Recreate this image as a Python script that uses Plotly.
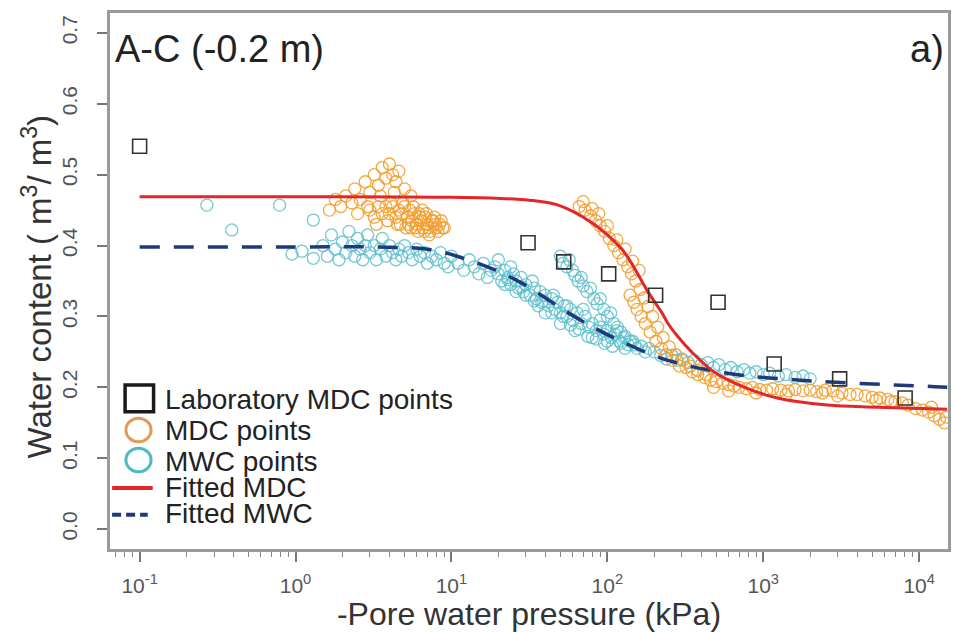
import plotly.graph_objects as go

# ---------------- data ----------------
lab_p = [0.1, 31, 52.5, 102, 204, 513, 1175, 3090, 8130]
lab_w = [0.540, 0.404, 0.377, 0.360, 0.330, 0.320, 0.233, 0.212, 0.185]

# MDC points: (pressure kPa, water content)
mdc_p = [1.65, 1.8, 1.95, 2.1, 2.3, 2.4, 2.6, 2.8, 3.0, 3.2, 3.4, 3.6, 3.8, 4.0, 4.2, 4.4, 4.6, 3.5, 4.3, 5.0,
         5.5, 2.5, 2.9,
         3.0, 3.2, 3.4, 3.6, 3.8, 4.0, 4.2, 4.4, 4.6, 4.8, 5.0, 5.2, 5.4, 5.6, 5.8, 6.0, 6.2, 6.4, 6.6, 6.8, 7.0,
         7.3, 7.6, 8.0, 8.4, 8.8, 3.3, 3.9, 4.5, 5.1, 5.7, 6.1, 6.9, 7.8, 4.1, 4.9, 5.3, 6.5, 7.2, 5.9,
         4.7, 5.5, 6.3, 7.1, 7.9, 8.6, 9.0, 6.7, 7.5, 8.2,
         66, 72, 78, 84, 90, 96, 103, 110, 118, 126, 135, 143, 152, 162, 172, 182, 195, 210, 228, 250, 275, 305,
         340, 380, 430, 70, 80, 88, 100, 115, 130, 145, 160, 140, 148, 155, 165, 175, 188, 205, 222, 240, 262, 290,
         320, 350, 380, 420, 460, 500, 550, 600, 650, 700, 780, 850, 950, 1050, 1150, 1300, 1450, 1600, 1800, 2000,
         2200, 2500, 2800, 3200, 3600, 4000, 4500, 5000, 5600, 6300, 7000, 7800, 8500, 9500, 10500, 11500, 12500,
         13500, 14500, 15000, 12000, 480, 600, 900, 1400, 2400, 3000, 5300, 6600]
mdc_w = [0.450, 0.465, 0.455, 0.470, 0.460, 0.480, 0.465, 0.490, 0.475, 0.500, 0.485, 0.510, 0.495, 0.515, 0.500,
         0.490, 0.505, 0.470, 0.475, 0.480, 0.470, 0.445, 0.455,
         0.450, 0.440, 0.455, 0.445, 0.455, 0.445, 0.455, 0.440, 0.450, 0.445, 0.455, 0.440, 0.450, 0.435, 0.445,
         0.430, 0.445, 0.435, 0.425, 0.440, 0.430, 0.420, 0.435, 0.425, 0.430, 0.425, 0.430, 0.435, 0.430, 0.425,
         0.455, 0.420, 0.445, 0.440, 0.460, 0.460, 0.430, 0.450, 0.415, 0.425,
         0.430, 0.425, 0.440, 0.425, 0.430, 0.435, 0.425, 0.420, 0.435, 0.420,
         0.455, 0.450, 0.442, 0.435, 0.428, 0.420, 0.410, 0.400, 0.390, 0.380, 0.370, 0.360, 0.350, 0.338, 0.326,
         0.314, 0.300, 0.285, 0.270, 0.257, 0.246, 0.238, 0.230, 0.224, 0.218, 0.462, 0.452, 0.445, 0.428, 0.408,
         0.395, 0.378, 0.365, 0.330, 0.320, 0.310, 0.300, 0.290, 0.278, 0.265, 0.255, 0.246, 0.238, 0.230,
         0.228, 0.222, 0.218, 0.214, 0.210, 0.208, 0.206, 0.204, 0.202, 0.200, 0.198, 0.200, 0.197, 0.196, 0.198,
         0.196, 0.195, 0.197, 0.195, 0.196, 0.194, 0.196, 0.195, 0.192, 0.190, 0.190, 0.188, 0.186, 0.185, 0.183,
         0.180, 0.178, 0.175, 0.170, 0.168, 0.165, 0.160, 0.155, 0.150, 0.158, 0.172, 0.200, 0.195, 0.192,
         0.190, 0.192, 0.188, 0.182, 0.180]

# MWC points
mwc_p = [0.27, 0.39, 0.79, 0.95, 1.3, 1.3, 1.1,
         1.5, 1.6, 1.7, 1.8, 1.9, 2.0, 2.1, 2.2, 2.3, 2.4, 2.5, 2.6, 2.7, 2.8, 2.9, 3.0, 3.2, 3.3, 3.5, 3.6, 3.8,
         4.0, 4.2, 4.4, 4.6, 4.8, 5.0, 5.3, 5.6, 6.0, 6.3, 6.7, 7.0, 7.5, 8.0, 8.5, 9.0, 9.5, 10, 11, 12, 13, 14,
         15, 16, 17, 18,
         19, 20, 21, 22, 23, 24, 25, 26, 27, 28, 29, 30, 32, 34, 35, 37, 38, 40, 42, 44, 46, 48, 50, 53, 55, 58,
         60, 64, 68, 72, 76, 80, 85, 90, 95, 100, 106, 112, 120, 128, 136, 145, 155, 165, 175,
         20, 22, 24, 26, 30, 33, 36, 40, 45, 50, 55, 62, 70, 80, 90, 100, 115, 130,
         23, 28, 34, 39, 44, 52, 58, 66, 75, 85, 96, 108, 122,
         50, 52, 55, 57, 60, 62, 65, 68, 70, 74, 78, 82, 86, 90, 95, 100, 105, 110, 116, 122, 130, 140, 150,
         185, 200, 220, 240, 260, 280, 300, 330, 360, 400, 440, 480, 520, 570, 620, 680, 750, 820, 900, 1000,
         1100, 1250, 1400, 1600, 1800, 2000]
mwc_w = [0.457, 0.422, 0.457, 0.388, 0.382, 0.436, 0.392,
         0.400, 0.385, 0.415, 0.395, 0.380, 0.405, 0.390, 0.420, 0.400, 0.385, 0.410, 0.395, 0.380, 0.400, 0.415,
         0.390, 0.400, 0.380, 0.395, 0.410, 0.385, 0.400, 0.390, 0.380, 0.395, 0.385, 0.400, 0.390, 0.380, 0.395,
         0.385, 0.390, 0.375, 0.385, 0.380, 0.390, 0.375, 0.370, 0.385, 0.375, 0.365, 0.380, 0.370, 0.360, 0.375,
         0.355, 0.365,
         0.370, 0.360, 0.350, 0.365, 0.355, 0.345, 0.360, 0.350, 0.340, 0.355, 0.335, 0.345, 0.330, 0.340, 0.325,
         0.335, 0.320, 0.330, 0.315, 0.325, 0.310, 0.320, 0.305, 0.315, 0.300, 0.310, 0.295, 0.305, 0.290, 0.300,
         0.285, 0.290, 0.280, 0.285, 0.275, 0.280, 0.270, 0.275, 0.265, 0.270, 0.260, 0.265, 0.255, 0.258, 0.250,
         0.380, 0.345, 0.370, 0.335, 0.330, 0.350, 0.315, 0.305, 0.330, 0.290, 0.315, 0.280, 0.310, 0.270, 0.295,
         0.265, 0.280, 0.255,
         0.352, 0.342, 0.322, 0.322, 0.305, 0.300, 0.288, 0.282, 0.272, 0.268, 0.262, 0.258, 0.262,
         0.385, 0.375, 0.370, 0.380, 0.365, 0.358, 0.350, 0.355, 0.343, 0.335, 0.340, 0.325, 0.318, 0.325, 0.310,
         0.300, 0.305, 0.290, 0.285, 0.278, 0.272, 0.265, 0.260,
         0.255, 0.250, 0.245, 0.240, 0.245, 0.238, 0.240, 0.235, 0.238, 0.232, 0.235, 0.228, 0.232, 0.225, 0.228,
         0.222, 0.225, 0.220, 0.222, 0.218, 0.220, 0.216, 0.218, 0.214, 0.216, 0.212]

fit_mdc_p = [0.1, 1, 10, 31.6, 48.4, 78.7, 100, 129, 182, 224, 245, 282, 347, 490, 759, 1230, 2570, 5370, 15136]
fit_mdc_w = [0.469, 0.469, 0.468, 0.464, 0.457, 0.433, 0.415, 0.390, 0.335, 0.305, 0.290, 0.272, 0.250, 0.221,
             0.200, 0.185, 0.175, 0.172, 0.169]

fit_mwc_p = [0.1, 1, 3.16, 7.41, 13.5, 25.7, 64.6, 117.5, 245, 589, 1738, 12589, 15136]
fit_mwc_w = [0.398, 0.398, 0.398, 0.394, 0.378, 0.352, 0.297, 0.267, 0.238, 0.220, 0.210, 0.201, 0.200]

x_tickvals = [0.1, 1, 10, 100, 1000, 10000]
x_ticktext = ["10<sup>-1</sup>", "10<sup>0</sup>", "10<sup>1</sup>", "10<sup>2</sup>", "10<sup>3</sup>", "10<sup>4</sup>"]
y_tickvals = [0.0, 0.1, 0.2, 0.3, 0.4, 0.5, 0.6, 0.7]
y_ticktext = ["0.0", "0.1", "0.2", "0.3", "0.4", "0.5", "0.6", "0.7"]

legend_labels = ["Laboratory MDC points", "MDC points", "MWC points", "Fitted MDC", "Fitted MWC"]

# ---------------- styles ----------------
FONT = "Liberation Sans, Arial, sans-serif"
ORANGE = "rgba(243,158,48,0.9)"
CYAN = "rgba(92,192,204,0.85)"
RED = "#E3262A"
NAVY = "#1E3A78"
AXIS = "#9a9a9a"

fig = go.Figure()

fig.add_trace(go.Scatter(x=mwc_p, y=mwc_w, mode="markers", showlegend=False, hoverinfo="skip",
                         marker=dict(symbol="circle-open", size=12, line=dict(width=1.3, color=CYAN), color=CYAN)))
fig.add_trace(go.Scatter(x=mdc_p, y=mdc_w, mode="markers", showlegend=False, hoverinfo="skip",
                         marker=dict(symbol="circle-open", size=12, line=dict(width=1.3, color=ORANGE), color=ORANGE)))
fig.add_trace(go.Scatter(x=fit_mwc_p, y=fit_mwc_w, mode="lines", showlegend=False, line_shape="spline",
                         line=dict(color=NAVY, width=3.5, dash="20px,14px")))
fig.add_trace(go.Scatter(x=fit_mdc_p, y=fit_mdc_w, mode="lines", showlegend=False, line_shape="spline",
                         line=dict(color=RED, width=3)))
fig.add_trace(go.Scatter(x=lab_p, y=lab_w, mode="markers", showlegend=False,
                         marker=dict(symbol="square-open", size=14, color="#333333", line=dict(width=1.6))))

# hand-built legend (paper coordinates)
shapes = [
    dict(type="rect", xref="paper", yref="paper", x0=0.018, x1=0.052, y0=0.256, y1=0.306,
         line=dict(color="#1a1a1a", width=3.5)),
    dict(type="circle", xref="paper", yref="paper", x0=0.019, x1=0.049, y0=0.200, y1=0.244,
         line=dict(color="#E39A55", width=3)),
    dict(type="circle", xref="paper", yref="paper", x0=0.019, x1=0.049, y0=0.144, y1=0.188,
         line=dict(color="#4FB8C6", width=3)),
    dict(type="line", xref="paper", yref="paper", x0=0.0025, x1=0.051, y0=0.114, y1=0.114,
         line=dict(color=RED, width=4)),
    dict(type="line", xref="paper", yref="paper", x0=0.0025, x1=0.045, y0=0.064, y1=0.064,
         line=dict(color=NAVY, width=4, dash="9px,5px")),
]
legend_y = [0.279, 0.222, 0.164, 0.114, 0.066]
annotations = [
    dict(text=t, xref="paper", yref="paper", x=0.063, y=yy, xanchor="left", yanchor="middle",
         showarrow=False, font=dict(size=28, color="#222222"))
    for t, yy in zip(legend_labels, legend_y)
]
annotations += [
    dict(text="A-C (-0.2 m)", xref="paper", yref="paper", x=0.004, y=0.975, xanchor="left", yanchor="top",
         showarrow=False, font=dict(size=38, color="#222222")),
    dict(text="a)", xref="paper", yref="paper", x=0.998, y=0.975, xanchor="right", yanchor="top",
         showarrow=False, font=dict(size=38, color="#222222")),
    dict(text="Water content ( m<sup>3</sup>/ m<sup>3</sup>)", xref="paper", yref="paper",
         x=-0.087, y=0.49, xanchor="center", yanchor="middle", textangle=-90, showarrow=False,
         font=dict(size=33, color="#333333")),
]

fig.update_layout(
    width=953, height=632,
    margin=dict(l=110, r=2, t=13, b=83),
    paper_bgcolor="white", plot_bgcolor="white",
    font=dict(family=FONT, size=20, color="#333333"),
    showlegend=False,
    shapes=shapes,
    annotations=annotations,
    xaxis=dict(type="log", range=[-1.19, 4.185], tickvals=x_tickvals, ticktext=x_ticktext,
               showgrid=False, zeroline=False, showline=True, linecolor=AXIS, linewidth=3, mirror=True,
               ticks="outside", ticklen=10, tickwidth=1.5, tickcolor="#777777",
               tickfont=dict(size=21, color="#555555"), ticklabelstandoff=6,
               minor=dict(ticks="outside", ticklen=5, tickwidth=1, tickcolor="#888888", dtick="D1", showgrid=False),
               title=dict(text="-Pore water pressure (kPa)", font=dict(size=32, color="#333333"), standoff=2)),
    yaxis=dict(range=[-0.028, 0.728], tickvals=y_tickvals, ticktext=y_ticktext, tickangle=-90,
               showgrid=False, zeroline=False, showline=True, linecolor=AXIS, linewidth=3, mirror=True,
               ticks="outside", ticklen=10, tickwidth=1.5, tickcolor="#777777",
               tickfont=dict(size=21, color="#555555"), ticklabelstandoff=12),
)

fig.write_html("out.html", config={"displayModeBar": False},
               post_script="document.body.style.margin='0';")
